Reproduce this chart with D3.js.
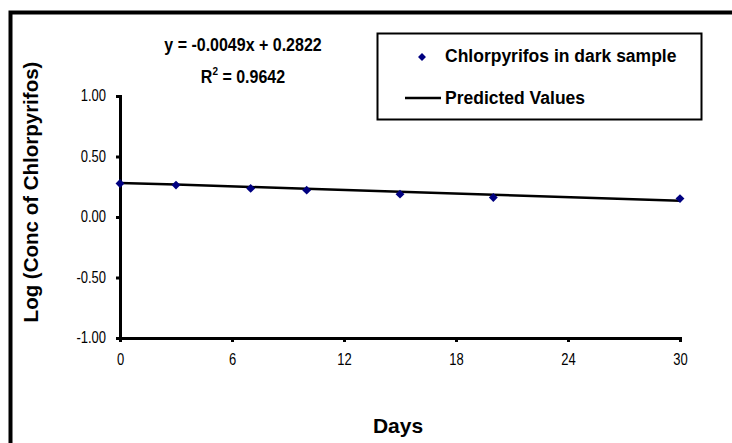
<!DOCTYPE html>
<html>
<head>
<meta charset="utf-8">
<script src="https://cdn.jsdelivr.net/npm/d3@7"></script>
<style>
  html, body { margin: 0; padding: 0; background: #fff; }
  svg { display: block; font-family: "Liberation Sans", Arial, sans-serif; }
</style>
</head>
<body>
<svg id="chart" width="732" height="443"></svg>
<script>
// Data
const days      = [0, 3, 7, 10, 15, 20, 30];
const observed  = [0.277, 0.264, 0.236, 0.222, 0.189, 0.161, 0.152];
const predicted = [0.282, 0.268, 0.248, 0.233, 0.209, 0.184, 0.135];
const xTicks    = [0, 6, 12, 18, 24, 30];
const yTicks    = [1.0, 0.5, 0.0, -0.5, -1.0];

const svg = d3.select('#chart');

// Outer chart frame (cropped by the window on right and bottom)
svg.append('rect')
  .attr('x', 10.5).attr('y', 12.5)
  .attr('width', 760).attr('height', 460)
  .attr('fill', 'none')
  .attr('stroke', '#000')
  .attr('stroke-width', 4);

const x = d3.scaleLinear().domain([0, 30]).range([120, 680]);
const y = d3.scaleLinear().domain([-1, 1]).range([338, 96]);

// Excel-style labels use a plain hyphen for negatives
const yFmt = d => d3.format('.2f')(d).replace('\u2212', '-');

// Axes
const xAxis = svg.append('g')
  .attr('transform', `translate(0,${y(-1)})`)
  .call(d3.axisBottom(x).tickValues(xTicks).tickSize(4).tickPadding(9).tickFormat(d3.format('d')));
const yAxis = svg.append('g')
  .attr('transform', `translate(${x(0)},0)`)
  .call(d3.axisLeft(y).tickValues(yTicks).tickSize(4).tickPadding(10).tickFormat(yFmt));

[xAxis, yAxis].forEach(a => {
  a.select('.domain').attr('stroke', '#000').attr('stroke-width', 3);
  a.selectAll('.tick line').attr('stroke', '#000').attr('stroke-width', 3);
  a.selectAll('.tick text')
    .attr('fill', '#000')
    .attr('transform', 'scale(1,1.2)')
    .style('font-family', '"Liberation Sans", Arial, sans-serif')
    .style('font-size', '13px');
});
yAxis.selectAll('.tick text').attr('dy', '0.3em');

// Predicted line
const line = d3.line()
  .x((d, i) => x(days[i]))
  .y(d => y(d));
svg.append('path')
  .datum(predicted)
  .attr('d', line)
  .attr('fill', 'none')
  .attr('stroke', '#000')
  .attr('stroke-width', 2.5);

// Observed points
const diamond = d3.symbol().type(d3.symbolDiamond2 || d3.symbolDiamond).size(50);
svg.selectAll('.pt')
  .data(observed)
  .join('path')
  .attr('class', 'pt')
  .attr('transform', (d, i) => `translate(${x(days[i])},${y(d)})`)
  .attr('d', diamond)
  .attr('fill', '#000080');

// Equation text (slightly tall, like the original rendering)
const eq = svg.append('g').attr('transform', 'translate(243,0) scale(1,1.15)');
eq.append('text')
  .attr('x', 0).attr('y', 51 / 1.15)
  .attr('text-anchor', 'middle')
  .style('font-size', '16px').style('font-weight', 'bold')
  .text('y = -0.0049x + 0.2822');
const r2 = eq.append('text')
  .attr('x', 0).attr('y', 83 / 1.15)
  .attr('text-anchor', 'middle')
  .style('font-size', '16px').style('font-weight', 'bold');
r2.append('tspan').text('R');
r2.append('tspan').attr('dy', -7).style('font-size', '10px').text('2');
r2.append('tspan').attr('dy', 7).text(' = 0.9642');

// Legend
const lg = svg.append('g');
lg.append('rect')
  .attr('x', 377.5).attr('y', 33.5)
  .attr('width', 324).attr('height', 86)
  .attr('fill', '#fff')
  .attr('stroke', '#000')
  .attr('stroke-width', 2);
lg.append('path')
  .attr('transform', 'translate(422,57)')
  .attr('d', d3.symbol().type(d3.symbolDiamond2 || d3.symbolDiamond).size(40))
  .attr('fill', '#000080');
lg.append('text')
  .attr('x', 445).attr('y', 62)
  .style('font-size', '17.5px').style('font-weight', 'bold')
  .text('Chlorpyrifos in dark sample');
lg.append('line')
  .attr('x1', 405).attr('x2', 441)
  .attr('y1', 98).attr('y2', 98)
  .attr('stroke', '#000').attr('stroke-width', 2.5);
lg.append('text')
  .attr('x', 445).attr('y', 104)
  .style('font-size', '17.5px').style('font-weight', 'bold')
  .text('Predicted Values');

// Axis titles
svg.append('text')
  .attr('x', 398).attr('y', 433)
  .attr('text-anchor', 'middle')
  .style('font-size', '21px').style('font-weight', 'bold')
  .text('Days');
svg.append('text')
  .attr('transform', 'translate(38,192) rotate(-90)')
  .attr('text-anchor', 'middle')
  .style('font-size', '20.5px').style('font-weight', 'bold')
  .text('Log (Conc of Chlorpyrifos)');
</script>
</body>
</html>
